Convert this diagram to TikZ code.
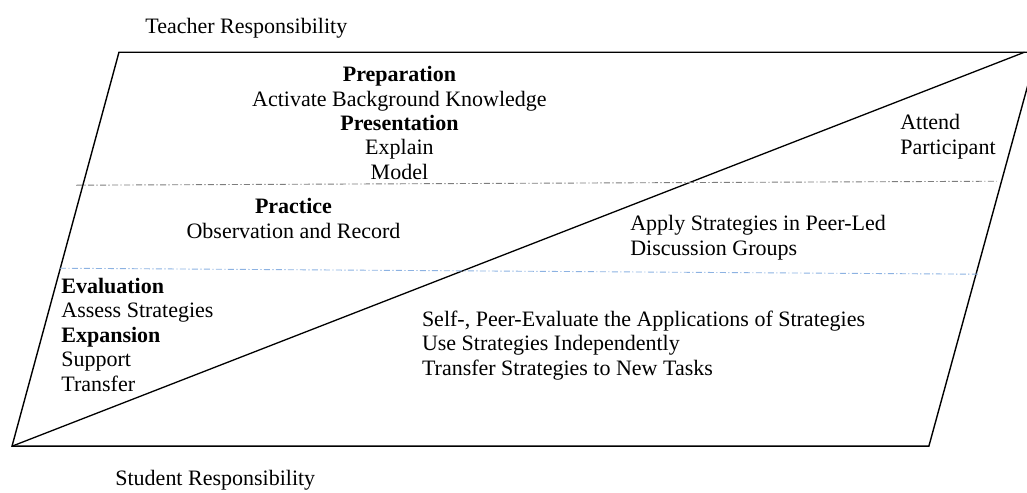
\documentclass[tikz,border=0pt]{standalone}
\usepackage{fontspec}
\setmainfont{Liberation Serif}
\usepackage{xcolor}
\definecolor{divgray}{RGB}{125,125,125}
\definecolor{divblue}{RGB}{140,178,226}
\usepackage{tikz}

\begin{document}
\begin{tikzpicture}[
  font=\fontsize{11}{12.2}\selectfont,
  frame/.style={draw=black, line width=0.7pt, line join=miter},
  divider/.style={line width=0.45pt, dash pattern=on 3pt off 1.2pt on 0.6pt off 1.2pt},
  phase/.style={inner sep=0pt, align=left, anchor=base west},
  phasec/.style={inner sep=0pt, align=center, anchor=base}
]
\path[use as bounding box, clip] (0,0) rectangle (18.05,8.65);

% corners of the slanted frame
\coordinate (bl) at (0.211,0.808);
\coordinate (tl) at (2.091,7.732);
\coordinate (tr) at (18.223,7.732);
\coordinate (br) at (16.325,0.808);
\coordinate (diagend) at (18.005,7.732);

\draw[frame] (bl) -- (tl) -- (tr) -- (br) -- cycle;
\draw[frame, line width=0.65pt] (bl) -- (diagend);

% phase dividers
\coordinate (g1) at (1.336,5.395);
\coordinate (g2) at (17.520,5.465);
\coordinate (b1) at (1.054,3.936);
\coordinate (b2) at (17.186,3.831);
\draw[divider, divgray] (g1) -- (g2);
\draw[divider, divblue] (b1) -- (b2);

\node[phase] (teacher) at (2.548,8.066) {Teacher Responsibility};
\node[phase] (student) at (2.021,0.114) {Student Responsibility};

% multi-line nodes sit on the baseline of their last line
\node[phasec] (prep) at (7.020,5.500)
  {\textbf{Preparation}\\
   Activate Background Knowledge\\
   \textbf{Presentation}\\
   Explain\\
   Model};

\node[phasec] (practice) at (5.158,4.464)
  {\textbf{Practice}\\
   Observation and Record};

\node[phase] (evaluation) at (1.072,1.775)
  {\textbf{Evaluation}\\
   Assess Strategies\\
   \textbf{Expansion}\\
   Support\\
   Transfer};

\node[phase] (attend) at (15.816,5.940)
  {Attend\\
   Participant};

\node[phase] (apply) at (11.071,4.165)
  {Apply Strategies in Peer-Led\\
   Discussion Groups};

\node[phase] (self) at (7.410,2.056)
  {Self-, Peer-Evaluate the Applications of Strategies\\
   Use Strategies Independently\\
   Transfer Strategies to New Tasks};
\end{tikzpicture}
\end{document}
